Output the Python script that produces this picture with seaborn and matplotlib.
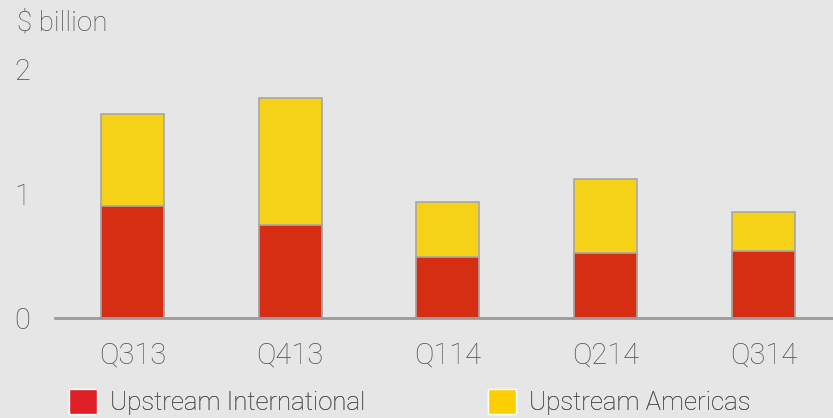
import pandas as pd
import seaborn as sns
import matplotlib.pyplot as plt
from matplotlib.patches import Patch

# values ($ billion)
quarters = ['Q313', 'Q413', 'Q114', 'Q214', 'Q314']
international = [0.90, 0.75, 0.49, 0.52, 0.54]
americas = [0.74, 1.02, 0.44, 0.60, 0.31]
series_names = ['Upstream International', 'Upstream Americas']

df = pd.DataFrame({'quarter': quarters,
                   'international': international,
                   'americas': americas})
df['total'] = df['international'] + df['americas']

red = '#d52e12'
yellow = '#f5d118'
bg = '#e6e6e6'
txt = '#505050'

sns.set_theme(style='white')
plt.rcParams['font.family'] = ['Roboto', 'DejaVu Sans']
plt.rcParams['font.weight'] = 'light'

fig = plt.figure(figsize=(8.33, 4.18), dpi=100, facecolor=bg)
ax = fig.add_axes([0.066, 0.239, 0.934, 0.596])
ax.set_facecolor(bg)

# stacked: total (yellow) underneath, international (red) on top
sns.barplot(data=df, x='quarter', y='total', color=yellow, width=0.4,
            edgecolor='#a8a8a8', linewidth=1.2, saturation=1, ax=ax)
sns.barplot(data=df, x='quarter', y='international', color=red, width=0.4,
            edgecolor='#a8a8a8', linewidth=1.2, saturation=1, ax=ax)

ax.set_xlim(-0.49, 4.44)
ax.set_ylim(0, 2)
ax.set_yticks([0, 1, 2])
ax.set_xlabel('')
ax.set_ylabel('')
ax.tick_params(axis='both', length=0, labelsize=21, labelcolor=txt)
ax.tick_params(axis='y', pad=18)
ax.tick_params(axis='x', pad=17)

for s in ['top', 'right', 'left']:
    ax.spines[s].set_visible(False)
ax.spines['bottom'].set_color('#9a9a9a')
ax.spines['bottom'].set_linewidth(2)

fig.text(0.02, 0.945, '$ billion', fontsize=20, color=txt, va='center', ha='left')

legend_colors = ['#e01e26', '#fcd000']
legend_x = [0.083, 0.586]
for name, c, x in zip(series_names, legend_colors, legend_x):
    leg = fig.legend(handles=[Patch(facecolor=c, label=name)],
                     loc='center left', bbox_to_anchor=(x, 0.038),
                     frameon=False, fontsize=18.5, labelcolor=txt,
                     handlelength=1.1, handleheight=1.1, handletextpad=0.5,
                     borderaxespad=0, borderpad=0)
    fig.add_artist(leg)

fig.savefig('out.png', dpi=100, facecolor=bg)
